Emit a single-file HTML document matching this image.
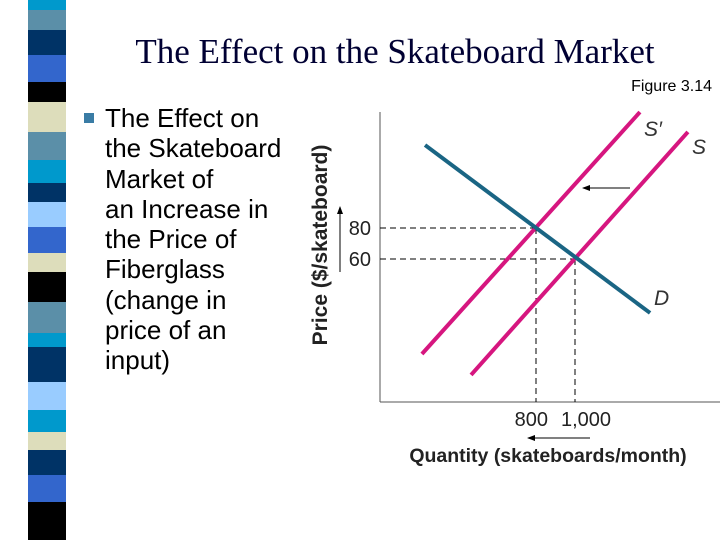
<!DOCTYPE html>
<html><head><meta charset="utf-8"><style>
body{margin:0;width:720px;height:540px;background:#fff;position:relative;overflow:hidden;font-family:"Liberation Sans",sans-serif}
.s{position:absolute;left:28px;width:38px}
</style></head><body>
<div id="stripes"></div>
<div style="position:absolute;left:80px;width:630px;top:32px;text-align:center;font-family:'Liberation Serif',serif;font-size:35px;color:#000033;white-space:nowrap">The Effect on the Skateboard Market</div>
<div style="position:absolute;right:8px;top:78px;font-size:16px">Figure 3.14</div>
<div style="position:absolute;left:84px;top:113px;width:10px;height:10px;background:#3a7ca5"></div>
<div style="position:absolute;left:105px;top:103px;font-size:26px;line-height:30.3px;white-space:nowrap">The Effect on<br>the Skateboard<br>Market of<br>an Increase in<br>the Price of<br>Fiberglass<br>(change in<br>price of an<br>input)</div>
<svg id="chart" width="720" height="540" style="position:absolute;left:0;top:0"></svg>
<script>
const bandColors=["#0099cc","#5b8fa8","#003366","#3366cc","#000","#ddddbb","#5b8fa8","#0099cc","#003366","#99ccff","#3366cc","#ddddbb","#000","#5b8fa8","#0099cc","#003366","#99ccff","#0099cc","#ddddbb","#003366","#3366cc","#000"];
const bandEdges=[0,10,30,55,82,102,132,160,183,202,227,253,272,302,333,347,382,410,432,450,475,502,540];
const sb=document.getElementById('stripes');
bandColors.forEach((c,i)=>{const d=document.createElement('div');d.className='s';d.style.top=bandEdges[i]+'px';d.style.height=(bandEdges[i+1]-bandEdges[i])+'px';d.style.background=c;


sb.appendChild(d);});

const demandQ=[231,1385], demandP=[133.5,25.2];
const supplyQ=[467,1579], supplyP=[-14.8,142];
const supply2Q=[215,1333], supply2P=[-1.3,154.8];
const eqQ=[800,1000], eqP=[80,60];
const qTicks=["800","1,000"], pTicks=["80","60"];
const X=q=>380+q*0.195, Y=p=>259-(p-60)*1.55;
const svg=document.getElementById('chart');const NS='http://www.w3.org/2000/svg';
function el(t,a,name){const e=document.createElementNS(NS,t);for(const k in a)e.setAttribute(k,a[k]);


svg.appendChild(e);return e;}
function txt(x,y,s,a,name){const e=el('text',Object.assign({x,y},a),name);e.textContent=s;return e;}
el('defs',{},'defs').innerHTML='<marker id="ah" markerWidth="8" markerHeight="6" refX="7" refY="3" orient="auto"><path d="M0,0L8,3L0,6z" fill="#000"/></marker>';
el('line',{x1:380,y1:112,x2:380,y2:402,stroke:'#555','stroke-width':1},'y-axis');
el('line',{x1:380,y1:402,x2:720,y2:402,stroke:'#555','stroke-width':1},'x-axis');
eqQ.forEach((q,i)=>{
 el('line',{x1:380,y1:Y(eqP[i]),x2:X(q),y2:Y(eqP[i]),stroke:'#000','stroke-dasharray':'6,4','stroke-width':1},'price-guide-'+eqP[i]);
 el('line',{x1:X(q),y1:Y(eqP[i]),x2:X(q),y2:402,stroke:'#000','stroke-dasharray':'6,4','stroke-width':1},'quantity-guide-'+q);
 const lx=i===0?X(q)+12:X(q)-14;
 txt(lx,426,qTicks[i],{'font-size':20,'text-anchor':i===0?'end':'start',fill:'#222'},'x-tick-label');
 txt(371,Y(eqP[i])+7,pTicks[i],{'font-size':20,'text-anchor':'end',fill:'#222'},'y-tick-label');
});
el('line',{x1:X(supply2Q[0]),y1:Y(supply2P[0]),x2:X(supply2Q[1]),y2:Y(supply2P[1]),stroke:'#d6167f','stroke-width':4},'supply-curve-s-prime');
el('line',{x1:X(supplyQ[0]),y1:Y(supplyP[0]),x2:X(supplyQ[1]),y2:Y(supplyP[1]),stroke:'#d6167f','stroke-width':4},'supply-curve-s');
el('line',{x1:X(demandQ[0]),y1:Y(demandP[0]),x2:X(demandQ[1]),y2:Y(demandP[1]),stroke:'#1a6584','stroke-width':4},'demand-curve');
txt(644,136,"S′",{'font-size':21,'font-style':'italic',fill:'#333'},'label-s-prime');
txt(692,154,"S",{'font-size':21,'font-style':'italic',fill:'#333'},'label-s');
txt(654,305,"D",{'font-size':21,'font-style':'italic',fill:'#333'},'label-d');
el('line',{x1:630,y1:188,x2:583,y2:188,stroke:'#000','marker-end':'url(#ah)'},'supply-shift-arrow');
el('line',{x1:590,y1:438,x2:528,y2:438,stroke:'#000','marker-end':'url(#ah)'},'quantity-change-arrow');
el('line',{x1:340,y1:272,x2:340,y2:207,stroke:'#000','marker-end':'url(#ah)'},'price-change-arrow');
txt(548,462,"Quantity (skateboards/month)",{'font-size':19.5,'font-weight':'bold','text-anchor':'middle',fill:'#222'},'x-axis-title');
txt(0,0,"Price ($/skateboard)",{'font-size':21,'font-weight':'bold','text-anchor':'middle',fill:'#222',transform:'translate(327,245) rotate(-90)'},'y-axis-title');
</script>
</body></html>
